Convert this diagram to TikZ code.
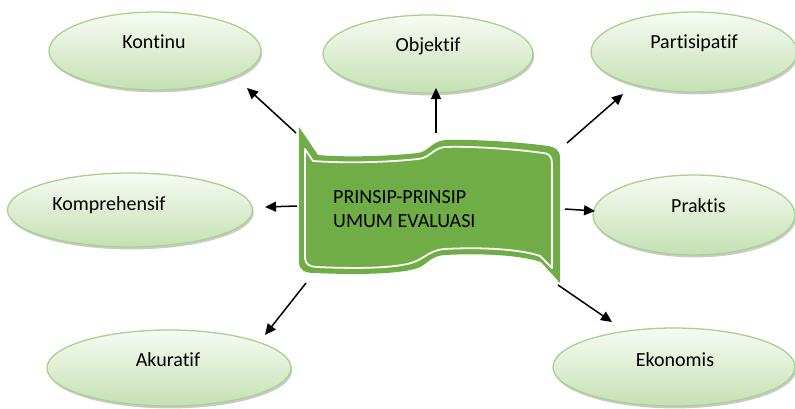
\documentclass[tikz,border=0pt]{standalone}
\usepackage{fontspec}
\setmainfont{Carlito}[Ligatures=NoCommon]
\usetikzlibrary{shapes.geometric,shadows,arrows.meta}
\definecolor{ovalline}{HTML}{A9D18E}
\definecolor{ovaltop}{HTML}{F7FBF4}
\definecolor{ovalbot}{HTML}{C5E0B3}
\definecolor{bannergreen}{HTML}{70AD47}
\begin{document}
\begin{tikzpicture}[x=1pt,y=-1pt,
  oval/.style={ellipse, draw=ovalline, line width=1.3pt,
    top color=ovaltop, bottom color=ovalbot, inner sep=0pt,
    drop shadow={shadow xshift=1.2pt, shadow yshift=-2.4pt, opacity=0.35, fill=black!60}},
  lbl/.style={font=\fontsize{20}{24}\selectfont, inner sep=0pt, anchor=base},
  arr/.style={line width=1.5pt, -{Triangle[length=11pt,width=10pt]}}]
\useasboundingbox (0,0) rectangle (795,408);

% ovals
\node[oval, minimum width=212pt, minimum height=78pt] (kontinu) at (155,51) {};
\node[oval, minimum width=210pt, minimum height=78pt] (objektif) at (428,54) {};
\node[oval, minimum width=206pt, minimum height=80pt] (partisipatif) at (694,52) {};
\node[oval, minimum width=245pt, minimum height=74pt] (komprehensif) at (130,210) {};
\node[oval, minimum width=202pt, minimum height=80pt] (praktis) at (694,215) {};
\node[oval, minimum width=244pt, minimum height=76pt] (akuratif) at (169,368) {};
\node[oval, minimum width=242pt, minimum height=78pt] (ekonomis) at (674,367) {};

% oval labels
\node[lbl] (kontinu-t) at (154,48) {Kontinu};
\node[lbl] (objektif-t) at (428,51.5) {Objektif};
\node[lbl] (partisipatif-t) at (694,48) {Partisipatif};
\node[lbl] (komprehensif-t) at (109,210.5) {Komprehensif};
\node[lbl] (praktis-t) at (698.5,212) {Praktis};
\node[lbl] (akuratif-t) at (168,366.5) {Akuratif};
\node[lbl] (ekonomis-t) at (675,366) {Ekonomis};

% central wavy banner
\fill[bannergreen] (299,127) -- (299,262)
  .. controls (299,270) and (305,273) .. (314,273)
  .. controls (360,275) and (400,274) .. (418,268)
  .. controls (428,264) and (430,256) .. (445,255)
  .. controls (480,253) and (520,255) .. (541,262)
  -- (560,283) -- (560,158)
  .. controls (560,150) and (555,147) .. (548,146)
  .. controls (520,142) and (470,139) .. (445,140)
  .. controls (432,141) and (428,152) .. (418,153)
  .. controls (380,157) and (340,157) .. (318,155)
  -- cycle;
\draw[white, line width=1.8pt, line join=round] (305,149) -- (305,258)
  .. controls (305,264) and (310,267) .. (317,267)
  .. controls (360,269) and (398,268) .. (414,262)
  .. controls (425,258) and (430,250) .. (445,249)
  .. controls (480,247) and (520,249) .. (540,256)
  -- (552,268) -- (552,163)
  .. controls (552,156) and (548,153) .. (543,153)
  .. controls (515,149) and (470,146) .. (445,147)
  .. controls (433,148) and (430,158) .. (418,159)
  .. controls (380,163) and (340,163) .. (313,161)
  -- cycle;
\node[lbl, anchor=base west] (banner-l1) at (333,203) {PRINSIP-PRINSIP};
\node[lbl, anchor=base west] (banner-l2) at (333,227) {UMUM EVALUASI};

% arrow ends
\coordinate (k0) at (296,133); \coordinate (k1) at (247,88);
\coordinate (o0) at (436,133); \coordinate (o1) at (436,88);
\coordinate (p0) at (567,143); \coordinate (p1) at (623,94);
\coordinate (c0) at (297,206); \coordinate (c1) at (265,207);
\coordinate (r0) at (565,209); \coordinate (r1) at (595,211);
\coordinate (a0) at (306,283); \coordinate (a1) at (265,335);
\coordinate (e0) at (558,285); \coordinate (e1) at (612,322);

\draw[arr] (k0) -- (k1);
\draw[arr] (o0) -- (o1);
\draw[arr] (p0) -- (p1);
\draw[arr] (c0) -- (c1);
\draw[arr] (r0) -- (r1);
\draw[arr] (a0) -- (a1);
\draw[arr] (e0) -- (e1);
\end{tikzpicture}
\end{document}
